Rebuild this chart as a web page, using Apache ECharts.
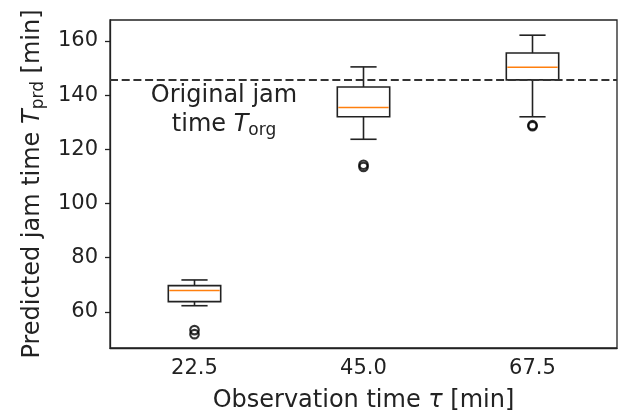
<!DOCTYPE html>
<html>
<head>
<meta charset="utf-8">
<title>Predicted jam time</title>
<script src="https://cdn.jsdelivr.net/npm/echarts@6/dist/echarts.min.js"></script>
<style>
  html, body { margin: 0; padding: 0; background: #fff; }
  #chart { width: 620px; height: 412px; }
</style>
</head>
<body>
<div id="chart"></div>
<script>
// observation times (x categories)
var categories = ["22.5", "45.0", "67.5"];
// box statistics per observation time
var lowerWhisker = [62.3, 123.7, 132.0];
var q1 = [63.8, 132.0, 145.6];
var median = [67.9, 135.4, 150.3];
var q3 = [69.7, 143.0, 155.5];
var upperWhisker = [71.8, 150.4, 162.1];
// outliers: category index + value
var outlierIdx = [0, 0, 1, 1, 2, 2];
var outlierVal = [53.3, 51.8, 114.3, 113.5, 128.9, 128.5];
// original jam time (dashed line)
var originalJam = 145.6;
var yTicks = [60, 80, 100, 120, 140, 160];

var font = "DejaVu Sans";
var ink = "#222";

var boxData = categories.map(function (c, i) {
  return [i, lowerWhisker[i], q1[i], median[i], q3[i], upperWhisker[i]];
});
var outlierData = outlierIdx.map(function (c, i) {
  return [c, outlierVal[i]];
});

var chart = echarts.init(document.getElementById("chart"), null, { renderer: "canvas" });

chart.setOption({
  animation: false,
  grid: {
    left: 110,
    right: 3,
    top: 20,
    bottom: 64,
    outerBoundsMode: "none",
    containLabel: false,
    show: true,
    borderColor: ink,
    borderWidth: 1.3,
    backgroundColor: "transparent",
  },
  xAxis: {
    type: "category",
    data: categories,
    boundaryGap: true,
    name: "Observation time {i|τ} [min]",
    nameLocation: "middle",
    nameGap: 41,
    nameTextStyle: {
      fontFamily: font,
      fontSize: 24,
      color: ink,
      rich: {
        i: { fontFamily: font, fontSize: 24, fontStyle: "italic", color: ink },
      },
    },
    axisLine: { lineStyle: { color: ink, width: 1.3 } },
    axisTick: { alignWithLabel: true, length: 5, lineStyle: { color: ink, width: 1.3 } },
    axisLabel: { fontFamily: font, fontSize: 21, color: ink, margin: 10 },
    splitLine: { show: false },
  },
  yAxis: {
    type: "value",
    min: 46.7,
    max: 167.7,
    name: "Predicted jam time {i|T}{s|prd} [min]",
    nameLocation: "middle",
    nameRotate: 90,
    nameGap: 63,
    nameTextStyle: {
      fontFamily: font,
      fontSize: 24,
      color: ink,
      lineHeight: 28,
      rich: {
        i: { fontFamily: font, fontSize: 24, fontStyle: "italic", color: ink, lineHeight: 28 },
        s: { fontFamily: font, fontSize: 17, color: ink, lineHeight: 14, verticalAlign: "bottom" },
      },
    },
    axisLine: { show: true, lineStyle: { color: ink, width: 1.3 } },
    axisTick: { show: true, length: 5, customValues: yTicks, lineStyle: { color: ink, width: 1.3 } },
    axisLabel: { fontFamily: font, fontSize: 21, color: ink, margin: 12, customValues: yTicks },
    splitLine: { show: false },
  },
  graphic: [
    {
      type: "text",
      x: 224,
      y: 81,
      style: {
        text: "Original jam\ntime {i|T}{s|org}",
        fontFamily: font,
        fontSize: 24,
        lineHeight: 29,
        fill: ink,
        align: "center",
        verticalAlign: "top",
        rich: {
          i: { fontFamily: font, fontSize: 24, fontStyle: "italic", fill: ink, lineHeight: 29 },
          s: { fontFamily: font, fontSize: 17, fill: ink, lineHeight: 14, verticalAlign: "bottom" },
        },
      },
    },
  ],
  series: [
    {
      type: "custom",
      data: boxData,
      encode: { x: 0, y: [1, 2, 3, 4, 5] },
      renderItem: function (params, api) {
        var i = api.value(0);
        var lo = api.coord([i, api.value(1)]);
        var p1 = api.coord([i, api.value(2)]);
        var md = api.coord([i, api.value(3)]);
        var p3 = api.coord([i, api.value(4)]);
        var hi = api.coord([i, api.value(5)]);
        var band = api.size([1, 0])[0];
        var hw = band * 0.155;
        var cw = hw / 2;
        var x = lo[0];
        var st = { stroke: ink, lineWidth: 1.6, fill: null };
        return {
          type: "group",
          children: [
            { type: "line", shape: { x1: x, y1: hi[1], x2: x, y2: p3[1] }, style: st },
            { type: "line", shape: { x1: x, y1: p1[1], x2: x, y2: lo[1] }, style: st },
            { type: "line", shape: { x1: x - cw, y1: hi[1], x2: x + cw, y2: hi[1] }, style: st },
            { type: "line", shape: { x1: x - cw, y1: lo[1], x2: x + cw, y2: lo[1] }, style: st },
            {
              type: "rect",
              shape: { x: x - hw, y: p3[1], width: 2 * hw, height: p1[1] - p3[1] },
              style: { stroke: ink, lineWidth: 1.6, fill: "none" },
            },
            {
              type: "line",
              shape: { x1: x - hw + 1, y1: md[1], x2: x + hw - 1, y2: md[1] },
              style: { stroke: "#ff7f0e", lineWidth: 1.5 },
            },
          ],
        };
      },
      z: 2,
    },
    {
      type: "scatter",
      data: outlierData,
      symbol: "circle",
      symbolSize: 8.5,
      itemStyle: { color: "rgba(0,0,0,0)", borderColor: "#000", borderWidth: 2.2 },
      markLine: {
        silent: true,
        symbol: ["none", "none"],
        label: { show: false },
        lineStyle: { color: "#333", type: [8, 3.7], width: 2 },
        data: [{ yAxis: originalJam }],
      },
      z: 3,
    },
  ],
});

window.addEventListener("resize", function () {
  chart.resize();
});
</script>
</body>
</html>
